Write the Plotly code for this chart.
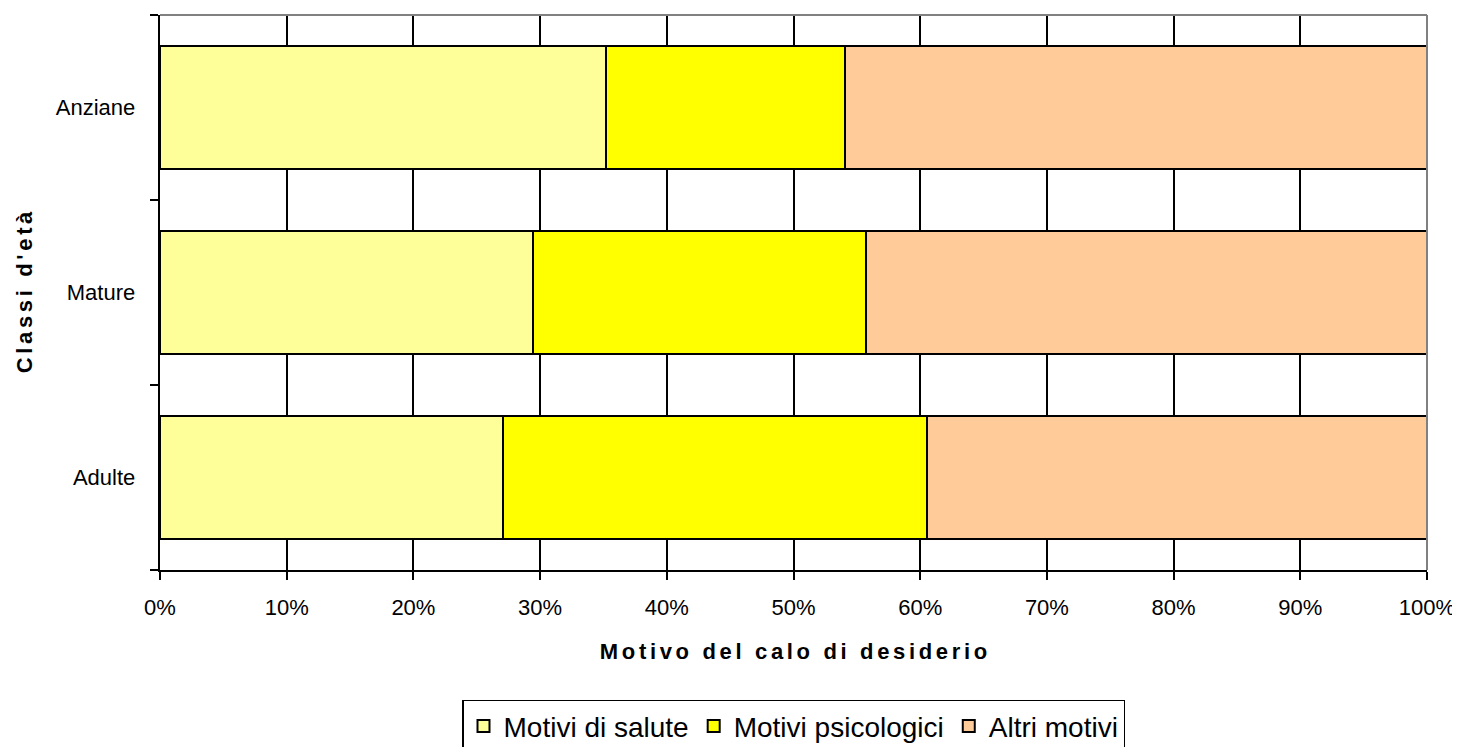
import plotly.graph_objects as go

categories = ["Adulte", "Mature", "Anziane"]
salute = [27.1, 29.4, 35.2]
psicologici = [33.4, 26.3, 18.9]
altri = [39.5, 44.3, 45.9]
series_names = ["Motivi di salute", "Motivi psicologici", "Altri motivi"]
colors = ["#FFFF99", "#FFFF00", "#FFCC99"]
x_ticks = [0, 10, 20, 30, 40, 50, 60, 70, 80, 90, 100]
x_tick_labels = [f"{v}%" for v in x_ticks]

SP = "\u2006"


def spaced(s):
    return SP.join(list(s))


fig = go.Figure()
for name, vals, col in zip(series_names, [salute, psicologici, altri], colors):
    fig.add_trace(go.Bar(
        y=categories, x=vals, name=name, orientation="h",
        marker=dict(color=col, line=dict(color="black", width=2)),
        width=0.665,
    ))

# page body has an 8px default margin: size the figure so the plot lands in place
fig.update_layout(
    barmode="stack",
    width=1452, height=739,
    margin=dict(l=152, r=33, t=7, b=177, autoexpand=False),
    plot_bgcolor="white", paper_bgcolor="white",
    font=dict(family="Liberation Sans, Arial, sans-serif", color="black", size=22),
    showlegend=True,
    legend=dict(
        orientation="h", x=0.5, xanchor="center",
        yref="container", y=0.064, yanchor="top",
        bordercolor="black", borderwidth=1.5, font=dict(size=28),
        traceorder="normal", tracegroupgap=0,
    ),
)
fig.update_xaxes(
    range=[0, 100], tickvals=x_ticks, ticktext=x_tick_labels,
    showgrid=True, gridcolor="black", gridwidth=2,
    showline=True, linecolor="black", linewidth=2, mirror=False,
    ticks="outside", ticklen=8, tickcolor="black", tickwidth=2,
    tickfont=dict(size=22), zeroline=False, automargin=False,
    ticklabelstandoff=9,
    title=dict(text="<b>" + spaced("Motivo del calo di desiderio") + "</b>",
               font=dict(size=22), standoff=24),
)
fig.update_yaxes(
    categoryorder="array", categoryarray=categories,
    range=[-0.5, 2.5], showgrid=False,
    showline=True, linecolor="black", linewidth=2,
    ticks="outside", ticklen=8, tickcolor="black", tickwidth=2, tickson="boundaries",
    tickfont=dict(size=22), ticksuffix="   ", automargin=False,
    title=dict(text="<b>" + spaced("Classi d'età") + "</b>", font=dict(size=22), standoff=17),
)
# grey top/right frame
fig.add_shape(type="line", xref="paper", yref="paper", x0=0, x1=1, y0=1, y1=1,
              line=dict(color="#808080", width=2))
fig.add_shape(type="line", xref="paper", yref="paper", x0=1, x1=1, y0=0, y1=1,
              line=dict(color="#808080", width=2))

fig.write_html("out.html")
